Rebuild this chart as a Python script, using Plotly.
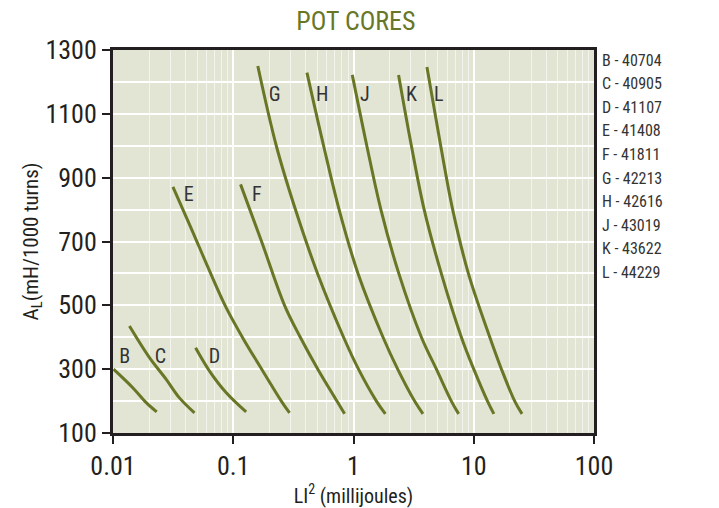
import plotly.graph_objects as go

# values
letters = ["B", "C", "D", "E", "F", "G", "H", "J", "K", "L"]
part_numbers = ["40704", "40905", "41107", "41408", "41811",
                "42213", "42616", "43019", "43622", "44229"]

# LI^2 (millijoules) and A_L (mH/1000 turns) along each curve
B_x = [0.0101, 0.0146, 0.0189, 0.0231]
B_y = [300, 242, 195, 166]
C_x = [0.0137, 0.0201, 0.0277, 0.0357, 0.0476]
C_y = [435, 336, 268, 210, 163]
D_x = [0.0486, 0.0635, 0.0875, 0.128]
D_y = [367, 294, 226, 166]
E_x = [0.0315, 0.0445, 0.0635, 0.0875, 0.120, 0.166, 0.251, 0.294]
E_y = [871, 743, 608, 492, 398, 310, 200, 163]
F_x = [0.115, 0.172, 0.267, 0.361, 0.505, 0.728, 0.843]
F_y = [879, 700, 500, 400, 300, 200, 160]
G_x = [0.160, 0.228, 0.329, 0.502, 0.827, 1.10, 1.55, 1.84]
G_y = [1250, 1000, 800, 600, 400, 300, 200, 160]
H_x = [0.410, 0.564, 0.759, 1.09, 1.76, 2.33, 3.22, 3.78]
H_y = [1229, 1000, 800, 600, 400, 300, 200, 160]
J_x = [0.977, 1.29, 1.69, 2.38, 3.67, 4.89, 6.51, 7.49]
J_y = [1222, 1000, 800, 600, 400, 300, 200, 160]
K_x = [2.37, 3.03, 3.87, 5.37, 7.89, 10.0, 13.0, 14.7]
K_y = [1222, 1000, 800, 600, 400, 300, 200, 160]
L_x = [4.08, 5.31, 6.68, 9.02, 13.6, 17.0, 21.9, 25.2]
L_y = [1247, 1000, 800, 600, 400, 300, 200, 160]

# where the curve letters sit
label_x = [0.0125, 0.0248, 0.0699, 0.0427, 0.157, 0.221, 0.550, 1.24, 3.03, 5.11]
label_y = [334, 334, 334, 843, 843, 1156, 1156, 1156, 1156, 1156]

y_ticks = [100, 300, 500, 700, 900, 1100, 1300]
x_ticks = [0.01, 0.1, 1, 10, 100]
x_ticktext = ["0.01", "0.1", "1", "10", "100"]

curves = [(B_x, B_y), (C_x, C_y), (D_x, D_y), (E_x, E_y), (F_x, F_y),
          (G_x, G_y), (H_x, H_y), (J_x, J_y), (K_x, K_y), (L_x, L_y)]

FONT = "Roboto Condensed, Noto Sans Condensed, DejaVu Sans Condensed, Liberation Sans Narrow, Roboto, sans-serif"
OLIVE = "#687726"
INK = "#231f20"

fig = go.Figure()
for (cx, cy), name in zip(curves, letters):
    fig.add_trace(go.Scatter(x=cx, y=cy, mode="lines", name=name,
                             line=dict(color=OLIVE, width=3, shape="spline", smoothing=1.0),
                             hoverinfo="skip"))

fig.add_trace(go.Scatter(x=label_x, y=label_y, mode="text", text=letters,
                         textfont=dict(family=FONT, size=20, color="#333333"),
                         hoverinfo="skip"))

# part-number list to the right of the plot
for i, (l, p) in enumerate(zip(letters, part_numbers)):
    fig.add_annotation(text=f"{l} - {p}", xref="paper", yref="paper",
                       x=1, y=1 - (10 + 23.6 * i) / 383, xanchor="left", yanchor="middle",
                       xshift=6, showarrow=False,
                       font=dict(family=FONT, size=16, color="#333333"))

# minor grid positions 2..9 in each decade
minor_x = [m * 10.0 ** e for e in range(-2, 2) for m in range(2, 10)]

# the page adds an 8px body margin, so the figure is a bit smaller than the window
fig.update_layout(
    width=711, height=500,
    margin=dict(l=105, r=125, t=42, b=75),
    paper_bgcolor="white",
    plot_bgcolor="#e2e4d4",
    showlegend=False,
    font=dict(family=FONT, color=INK),
    title=dict(text="POT CORES", xref="paper", x=0.505, xanchor="center",
               yref="container", y=0.975, yanchor="middle",
               font=dict(family=FONT, size=26, color=OLIVE)),
)

fig.update_xaxes(
    type="log", range=[-2, 2], automargin=False,
    tickvals=x_ticks, ticktext=x_ticktext,
    ticks="outside", ticklen=8, tickwidth=2, tickcolor=INK,
    tickfont=dict(family=FONT, size=26, color=INK),
    showline=True, linewidth=3, linecolor=INK, mirror=True,
    showgrid=True, gridcolor="white", gridwidth=2,
    minor=dict(tickmode="array", tickvals=minor_x, showgrid=True,
               gridcolor="rgba(255,255,255,0.6)", gridwidth=1, ticks=""),
    zeroline=False,
    title=dict(text="LI<sup>2</sup> (millijoules)", standoff=2,
               font=dict(family=FONT, size=20, color=INK)),
)

fig.update_yaxes(
    range=[100, 1300], automargin=False,
    tickvals=y_ticks,
    ticks="outside", ticklen=8, tickwidth=2, tickcolor=INK,
    tickfont=dict(family=FONT, size=26, color=INK),
    showline=True, linewidth=3, linecolor=INK, mirror=True,
    showgrid=True, gridcolor="white", gridwidth=2,
    minor=dict(showgrid=True, gridcolor="white", gridwidth=2, dtick=100, ticks=""),
    zeroline=False,
    title=dict(text="A<sub>L</sub>(mH/1000 turns)", standoff=2,
               font=dict(family=FONT, size=21, color=INK)),
)

fig.write_html("out.html")
